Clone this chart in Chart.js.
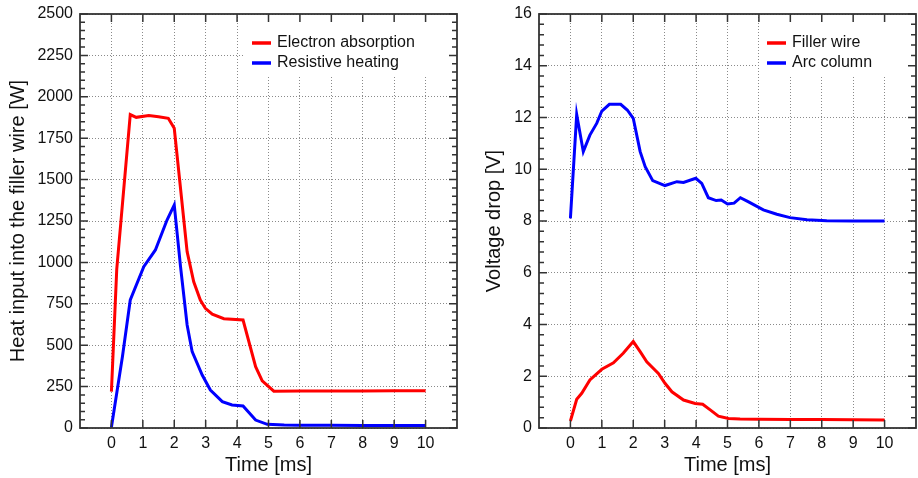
<!DOCTYPE html>
<html>
<head>
<meta charset="utf-8">
<script src="https://cdn.jsdelivr.net/npm/chart.js@4.4.1/dist/chart.umd.min.js"></script>
<style>
  html, body { margin:0; padding:0; background:#fff; }
  #wrap { position:relative; width:918px; height:478px; }
  canvas { position:absolute; top:0; }
</style>
</head>
<body>
<div id="wrap">
  <canvas id="heatChart" width="460" height="478" style="left:0"></canvas>
  <canvas id="voltChart" width="458" height="478" style="left:460px"></canvas>
</div>
<script>
// left panel: heat input [W] vs time [ms]
const electronTime = [0, 0.17, 0.6, 0.79, 1.19, 1.5, 1.81, 2.0, 2.41, 2.62, 2.83, 2.99, 3.21, 3.58, 4.19, 4.59, 4.8, 5.17, 6, 7, 8, 9, 10];
const electronHeat = [220, 960, 1893, 1876, 1887, 1880, 1870, 1810, 1065, 883, 773, 723, 687, 660, 652, 370, 285, 222, 223, 224, 224, 225, 225];
const resistiveTime = [0, 0.35, 0.6, 1.03, 1.4, 1.77, 2.0, 2.2, 2.41, 2.57, 2.89, 3.15, 3.53, 3.84, 4.19, 4.59, 4.96, 5.5, 6, 7, 8, 9, 10];
const resistiveHeat = [5, 430, 773, 974, 1075, 1256, 1347, 974, 622, 461, 320, 229, 159, 139, 133, 48, 22, 18, 17, 16, 15, 15, 15];

// right panel: voltage drop [V] vs time [ms]
const fillerTime = [0, 0.2, 0.36, 0.62, 1.0, 1.37, 1.68, 2.0, 2.22, 2.43, 2.8, 3.01, 3.23, 3.6, 3.97, 4.21, 4.45, 4.71, 5.03, 5.4, 6, 7, 8, 9, 10];
const fillerVolt = [0.27, 1.11, 1.34, 1.86, 2.27, 2.52, 2.89, 3.34, 2.95, 2.56, 2.11, 1.73, 1.40, 1.08, 0.95, 0.92, 0.70, 0.46, 0.37, 0.35, 0.34, 0.33, 0.33, 0.32, 0.31];
const arcTime = [0, 0.2, 0.41, 0.62, 0.84, 1.0, 1.24, 1.6, 1.81, 2.0, 2.22, 2.38, 2.62, 3.01, 3.39, 3.6, 3.99, 4.18, 4.39, 4.64, 4.8, 5.0, 5.21, 5.41, 5.67, 6.14, 6.57, 6.99, 7.53, 8.16, 9, 10];
const arcVolt = [8.10, 12.12, 10.68, 11.32, 11.78, 12.25, 12.51, 12.51, 12.29, 11.97, 10.68, 10.10, 9.56, 9.37, 9.52, 9.49, 9.65, 9.45, 8.90, 8.79, 8.81, 8.66, 8.69, 8.90, 8.74, 8.43, 8.26, 8.13, 8.05, 8.01, 8.0, 8.0];

const timeTicks = [0, 1, 2, 3, 4, 5, 6, 7, 8, 9, 10];

Chart.defaults.font.family = '"Liberation Sans", Arial, sans-serif';
Chart.defaults.color = '#111';

function pts(xs, ys){ return xs.map((x, i) => ({ x: x, y: ys[i] })); }

// box frame, inward ticks and the legend inside the plot
const framePlugin = {
  id: 'frame',
  afterDraw(chart, args, opts){
    const ctx = chart.ctx, a = chart.chartArea, xs = chart.scales.x, ys = chart.scales.y;
    ctx.save();
    ctx.fillStyle = '#fff';
    ctx.fillRect(a.right - opts.boxW, a.top + 1, opts.boxW - 1, opts.boxH);

    ctx.strokeStyle = '#333';
    ctx.lineWidth = 1.5;
    ctx.beginPath();
    timeTicks.forEach(v => {
      const px = xs.getPixelForValue(v);
      ctx.moveTo(px, a.bottom); ctx.lineTo(px, a.bottom - 8);
      ctx.moveTo(px, a.top); ctx.lineTo(px, a.top + 8);
    });
    const n = Math.round(ys.max / opts.minor);
    for (let k = 0; k <= n; k++){
      const py = ys.getPixelForValue(k * opts.minor);
      const len = k % 5 === 0 ? 8 : 5;
      ctx.moveTo(a.left, py); ctx.lineTo(a.left + len, py);
      ctx.moveTo(a.right, py); ctx.lineTo(a.right - len, py);
    }
    ctx.stroke();
    ctx.lineWidth = 1.8;
    ctx.strokeRect(a.left, a.top, a.right - a.left, a.bottom - a.top);

    ctx.font = '16px "Liberation Sans", Arial, sans-serif';
    ctx.textBaseline = 'middle';
    ctx.fillStyle = '#111';
    chart.data.datasets.forEach((ds, i) => {
      const ly = a.top + 29 + i * 20;
      const lx = a.right - opts.lineOff;
      ctx.strokeStyle = ds.borderColor;
      ctx.lineWidth = 3.5;
      ctx.beginPath(); ctx.moveTo(lx, ly); ctx.lineTo(lx + 19, ly); ctx.stroke();
      ctx.fillText(ds.label, lx + 25, ly);
    });
    ctx.restore();
  }
};

function makeChart(id, sets, yMax, yStep, yTitle, yWidth, titlePad, padRight, frameOpts){
  return new Chart(document.getElementById(id).getContext('2d'), {
    type: 'scatter',
    data: { datasets: sets.map(s => ({
      label: s.label, data: s.data, showLine: true, borderColor: s.color,
      borderWidth: 3, pointRadius: 0, tension: 0, fill: false
    })) },
    options: {
      responsive: false, animation: false, devicePixelRatio: 1,
      layout: { padding: { top: 14, right: padRight, left: 0, bottom: 0 } },
      plugins: { legend: { display: false }, tooltip: { enabled: false }, frame: frameOpts },
      scales: {
        x: {
          type: 'linear', min: -1, max: 11,
          afterFit(s){ s.height = 50; s.paddingLeft = 0; s.paddingRight = 0; },
          ticks: { stepSize: 1, padding: 6, maxRotation: 0, autoSkip: false, font: { size: 16 },
                   callback: v => (v < 0 || v > 10) ? '' : String(v) },
          grid: { drawTicks: false, lineWidth: 1,
                  color: c => (c.tick && (c.tick.value < 0 || c.tick.value > 10)) ? 'rgba(0,0,0,0)' : '#8a8a8a' },
          border: { display: false, dash: [1, 2] },
          title: { display: true, text: 'Time [ms]', font: { size: 20 }, padding: { top: 0, bottom: 1 } }
        },
        y: {
          min: 0, max: yMax,
          afterFit(s){ s.width = yWidth; s.paddingTop = 0; s.paddingBottom = 0; },
          ticks: { stepSize: yStep, padding: 7, font: { size: 16 }, callback: v => String(v) },
          grid: { drawTicks: false, lineWidth: 1, color: '#8a8a8a' },
          border: { display: false, dash: [1, 2] },
          title: { display: true, text: yTitle, font: { size: 20 }, padding: { top: titlePad, bottom: 0 } }
        }
      }
    },
    plugins: [framePlugin]
  });
}

makeChart('heatChart', [
  { label: 'Electron absorption', color: '#ff0000', data: pts(electronTime, electronHeat) },
  { label: 'Resistive heating', color: '#0000ff', data: pts(resistiveTime, resistiveHeat) }
], 2500, 250, 'Heat input into the filler wire [W]', 80, 6, 3, { boxW: 213, boxH: 60, lineOff: 205, minor: 50 });

makeChart('voltChart', [
  { label: 'Filler wire', color: '#ff0000', data: pts(fillerTime, fillerVolt) },
  { label: 'Arc column', color: '#0000ff', data: pts(arcTime, arcVolt) }
], 16, 2, 'Voltage drop [V]', 79, 22, 2, { boxW: 156, boxH: 60, lineOff: 149, minor: 0.4 });
</script>
</body>
</html>
